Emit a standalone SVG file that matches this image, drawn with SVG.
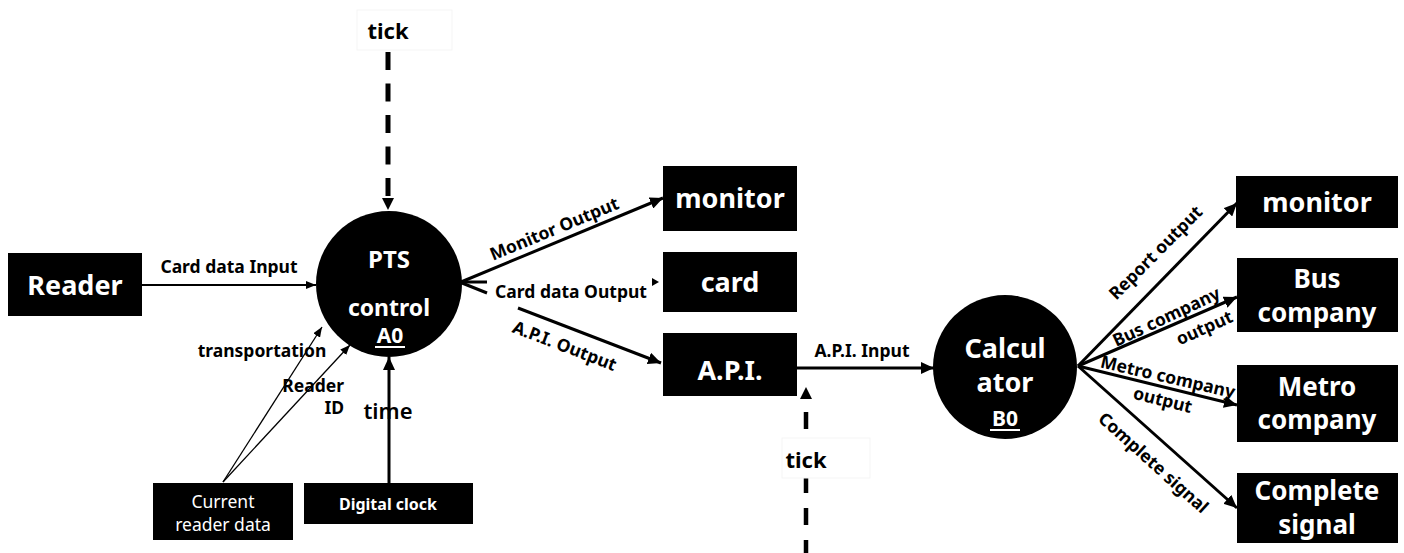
<svg xmlns="http://www.w3.org/2000/svg" width="1404" height="553" viewBox="0 0 1404 553">
<style>
  text { font-family: "Noto Sans", "Open Sans", "DejaVu Sans", sans-serif; }
  .box { fill: #000; }
  .bt { fill: #fff; font-weight: bold; font-size: 27px; text-anchor: middle; }
  .bt2 { fill: #fff; font-weight: bold; font-size: 26px; text-anchor: middle; }
  .st { fill: #fff; font-size: 17.5px; text-anchor: middle; }
  .ct { fill: #fff; font-weight: bold; text-anchor: middle; }
  .lbl { fill: #000; font-weight: bold; font-size: 17.5px; }
  .mid { text-anchor: middle; dominant-baseline: central; }
  .ln { stroke: #000; fill: none; stroke-width: 3; }
  .thin { stroke: #000; fill: none; stroke-width: 1.3; }
  .mid2 { stroke: #000; fill: none; stroke-width: 2; }
  .faint { fill: #fff; stroke: #f5f5f5; stroke-width: 1; }
</style>
<defs>
  <marker id="ah" markerUnits="userSpaceOnUse" markerWidth="14" markerHeight="12" refX="13" refY="6" orient="auto">
    <path d="M0,0 L13,6 L0,12 z" fill="#000"/>
  </marker>
  <marker id="ahs" markerUnits="userSpaceOnUse" markerWidth="10" markerHeight="8" refX="10" refY="4" orient="auto">
    <path d="M0,0 L10,4 L0,8 z" fill="#000"/>
  </marker>
</defs>
<rect width="1404" height="553" fill="#fff"/>

<g id="connectors">
  <rect class="faint" x="357" y="10" width="95" height="40"/>
  <line x1="388" y1="52" x2="388" y2="198" stroke="#000" stroke-width="5" stroke-dasharray="18 13.5"/>
  <path d="M382,198 L394,198 L388,210 z" fill="#000"/>
  <line class="mid2" x1="142" y1="285" x2="316" y2="285" marker-end="url(#ahs)"/>
  <line class="thin" x1="223" y1="482" x2="322" y2="327" marker-end="url(#ahs)"/>
  <line class="thin" x1="223" y1="482" x2="350" y2="345" marker-end="url(#ahs)"/>
  <line class="ln" x1="389" y1="483" x2="389" y2="357" marker-end="url(#ah)"/>
  <line class="ln" x1="461" y1="282" x2="663" y2="198" marker-end="url(#ah)"/>
  <line class="ln" x1="461" y1="282" x2="487" y2="282"/>
  <line class="ln" x1="462" y1="283" x2="487" y2="293"/>
  <path d="M652,278 L659,282 L652,286 z" fill="#000"/>
  <line class="ln" x1="518" y1="308" x2="661" y2="363" marker-end="url(#ah)"/>
  <line class="ln" x1="797" y1="368" x2="934" y2="368" marker-end="url(#ah)"/>
  <path d="M800,399 L812,399 L806,387 z" fill="#000"/>
  <line x1="806" y1="412" x2="806" y2="553" stroke="#000" stroke-width="4.5" stroke-dasharray="17 15"/>
  <rect class="faint" x="782" y="438" width="88" height="40"/>
  <line class="ln" x1="1078" y1="366" x2="1237" y2="203" marker-end="url(#ah)"/>
  <line class="ln" x1="1078" y1="366" x2="1237" y2="297" marker-end="url(#ah)"/>
  <line class="ln" x1="1078" y1="366" x2="1237" y2="405" marker-end="url(#ah)"/>
  <line class="ln" x1="1078" y1="366" x2="1237" y2="508" marker-end="url(#ah)"/>
</g>

<g id="labels">
  <text class="lbl" x="388" y="39" text-anchor="middle" style="font-size:22px">tick</text>
  <text class="lbl" x="229" y="273" text-anchor="middle">Card data Input</text>
  <text class="lbl" x="262" y="357" text-anchor="middle">transportation</text>
  <text class="lbl" x="344" y="392" text-anchor="end">Reader</text>
  <text class="lbl" x="344" y="414" text-anchor="end">ID</text>
  <text class="lbl" x="388" y="419" text-anchor="middle" style="font-size:22px;font-weight:600">time</text>
  <text class="lbl mid" transform="translate(554,228) rotate(-22.5)">Monitor Output</text>
  <text class="lbl" x="571" y="298" text-anchor="middle">Card data Output</text>
  <text class="lbl mid" transform="translate(565,345) rotate(21)">A.P.I. Output</text>
  <text class="lbl" x="862" y="357" text-anchor="middle">A.P.I. Input</text>
  <text class="lbl" x="806" y="468" text-anchor="middle" style="font-size:22px">tick</text>
  <text class="lbl mid" transform="translate(1155,252) rotate(-45)">Report output</text>
  <text class="lbl mid" transform="translate(1166,316) rotate(-25)">Bus company</text>
  <text class="lbl mid" transform="translate(1204,327) rotate(-24)">output</text>
  <text class="lbl mid" transform="translate(1168,376) rotate(13)">Metro company</text>
  <text class="lbl mid" transform="translate(1163,399) rotate(14)">output</text>
  <text class="lbl mid" transform="translate(1154,462) rotate(42)">Complete signal</text>
</g>

<g id="reader"><rect class="box" x="8" y="253" width="134" height="63"/><text class="bt" x="75" y="295">Reader</text></g>
<g id="pts-control">
  <circle cx="389" cy="284" r="73" fill="#000"/>
  <text class="ct" x="389" y="268" style="font-size:24px">PTS</text>
  <text class="ct" x="389" y="316" style="font-size:23px">control</text>
  <text class="ct" x="390" y="343" style="font-size:21px">A0</text>
  <line x1="375" y1="347" x2="405" y2="347" stroke="#fff" stroke-width="2"/>
</g>
<g id="current-reader-data"><rect class="box" x="153" y="483" width="140" height="57"/><text class="st" x="223" y="508">Current</text><text class="st" x="223" y="531">reader data</text></g>
<g id="digital-clock"><rect class="box" x="304" y="483" width="169" height="41"/><text class="st" x="388" y="510" style="font-weight:bold;font-size:16px">Digital clock</text></g>
<g id="monitor-1"><rect class="box" x="663" y="166" width="134" height="65"/><text class="bt" x="730" y="208">monitor</text></g>
<g id="card"><rect class="box" x="663" y="252" width="134" height="60"/><text class="bt" x="730" y="292">card</text></g>
<g id="api"><rect class="box" x="663" y="333" width="134" height="63"/><text class="bt" x="730" y="380">A.P.I.</text></g>
<g id="calculator">
  <circle cx="1005" cy="367" r="72" fill="#000"/>
  <text class="ct" x="1005" y="358" style="font-size:27px">Calcul</text>
  <text class="ct" x="1005" y="392" style="font-size:27px">ator</text>
  <text class="ct" x="1005" y="426" style="font-size:21px">B0</text>
  <line x1="990" y1="430" x2="1020" y2="430" stroke="#fff" stroke-width="2"/>
</g>
<g id="monitor-2"><rect class="box" x="1236" y="176" width="162" height="52"/><text class="bt" x="1317" y="212">monitor</text></g>
<g id="bus-company"><rect class="box" x="1237" y="258" width="161" height="74"/><text class="bt2" x="1317" y="288">Bus</text><text class="bt2" x="1317" y="322">company</text></g>
<g id="metro-company"><rect class="box" x="1237" y="365" width="161" height="77"/><text class="bt2" x="1317" y="396">Metro</text><text class="bt2" x="1317" y="429">company</text></g>
<g id="complete-signal"><rect class="box" x="1237" y="473" width="161" height="70"/><text class="bt2" x="1317" y="500">Complete</text><text class="bt2" x="1317" y="534">signal</text></g>
</svg>
